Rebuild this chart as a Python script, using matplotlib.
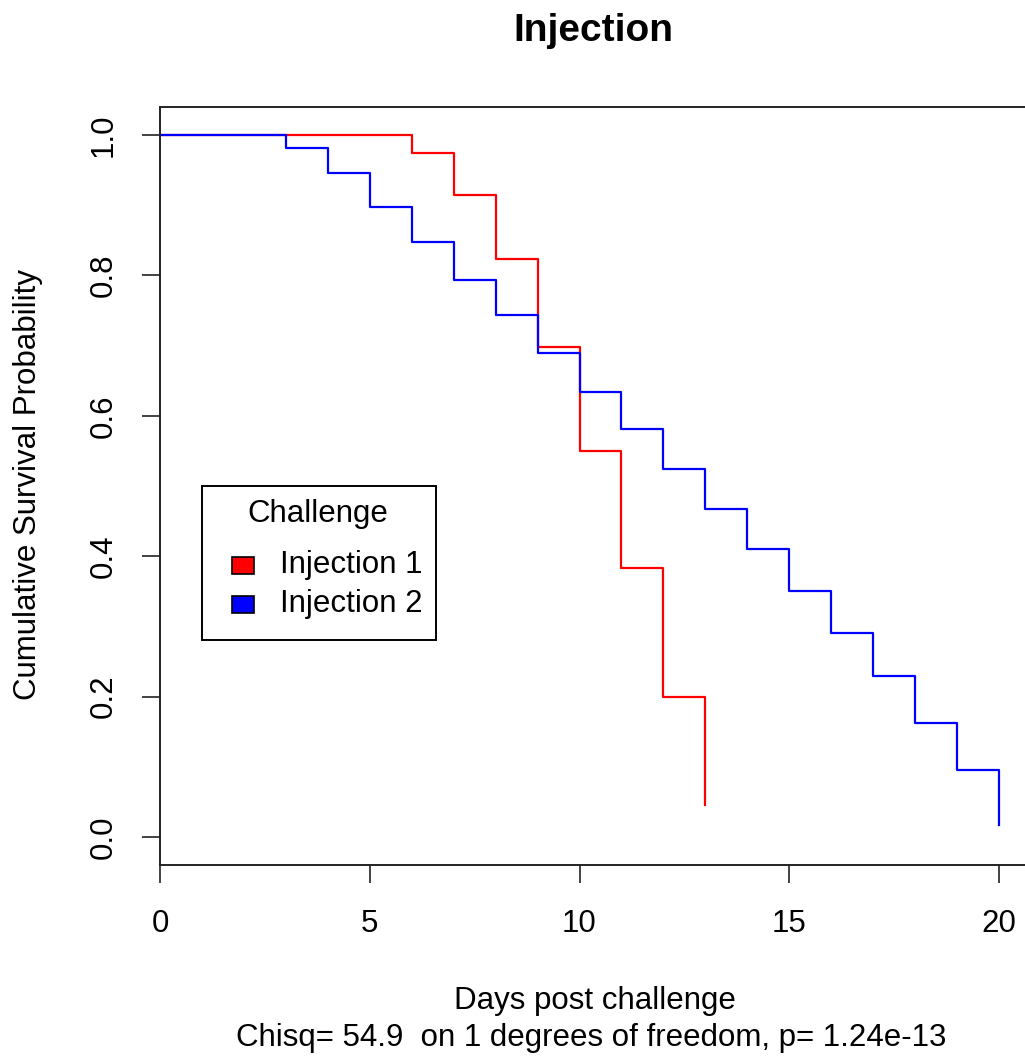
import matplotlib
matplotlib.use("Agg")
import matplotlib.pyplot as plt
from matplotlib.patches import Rectangle

plt.rcParams['font.family'] = ['Liberation Sans', 'DejaVu Sans']

#survival data
days_inj1 = [0, 6, 7, 8, 9, 10, 11, 12, 13]
surv_inj1 = [1.0, 0.975, 0.914, 0.823, 0.698, 0.550, 0.383, 0.200, 0.045]

days_inj2 = [0, 3, 4, 5, 6, 7, 8, 9, 10, 11, 12, 13, 14, 15, 16, 17, 18, 19, 20]
surv_inj2 = [1.0, 0.982, 0.946, 0.897, 0.848, 0.794, 0.743, 0.689, 0.634, 0.581,
             0.524, 0.467, 0.410, 0.351, 0.291, 0.229, 0.163, 0.095, 0.017]

group_names = ["Injection 1", "Injection 2"]
group_colors = ["#FF0000", "#0000FF"]
x_ticks = [0, 5, 10, 15, 20]
y_ticks = [0.0, 0.2, 0.4, 0.6, 0.8, 1.0]

W, H = 1025, 1056
fs = 22.5
fig = plt.figure(figsize=(W / 100, H / 100), dpi=100)

#pixel coords (from top left) -> figure fraction
def fx(px):
    return px / W
def fy(py):
    return 1 - py / H

#axes box in pixels: left 160, top 106, bottom 865, right spine off the picture
left, right, top, bottom = 160, 160 + 20.8 * 41.95, 107, 865
ax = fig.add_axes([fx(left), fy(bottom), (right - left) / W, (bottom - top) / H])

ax.step(days_inj1, surv_inj1, where='post', color=group_colors[0], lw=1.6)
ax.step(days_inj2, surv_inj2, where='post', color=group_colors[1], lw=1.6)

ax.set_xlim(0, 20.8)
ax.set_ylim(-0.04, 1.04)
ax.set_xticks(x_ticks)
ax.set_xticklabels([str(t) for t in x_ticks])
ax.set_yticks(y_ticks)
ax.set_yticklabels(["%.1f" % t for t in y_ticks], rotation=90, va='center')
ax.tick_params(axis='both', length=13, width=1.2, labelsize=fs, color='#222222')
ax.tick_params(axis='x', pad=19)
ax.tick_params(axis='y', pad=17)
for s in ['left', 'bottom', 'top']:
    ax.spines[s].set_linewidth(1.4)
    ax.spines[s].set_color('#222222')
ax.spines['right'].set_visible(False)

fig.text(fx(593), fy(31), "Injection", fontsize=28, fontweight='bold',
         ha='center', va='center')
fig.text(fx(595), fy(1001), "Days post challenge", fontsize=fs,
         ha='center', va='center')
fig.text(fx(591), fy(1038), "Chisq= 54.9  on 1 degrees of freedom, p= 1.24e-13",
         fontsize=fs, ha='center', va='center')
fig.text(fx(28), fy(485), "Cumulative Survival Probability", fontsize=fs,
         rotation=90, ha='center', va='center')

#legend drawn by hand, R style
fig.patches.append(Rectangle((fx(202), fy(640)), (436 - 202) / W, (640 - 486) / H,
                             transform=fig.transFigure, facecolor='white',
                             edgecolor='black', lw=1.4))
fig.text(fx(318), fy(514), "Challenge", fontsize=fs, ha='center', va='center')
for i, (name, col) in enumerate(zip(group_names, group_colors)):
    yc = 565 + 39 * i
    fig.patches.append(Rectangle((fx(232), fy(yc + 8.5)), 22 / W, 17 / H,
                                 transform=fig.transFigure, facecolor=col,
                                 edgecolor='black', lw=1.2))
    fig.text(fx(280), fy(yc), name, fontsize=fs, ha='left', va='center')

fig.savefig("out.png", dpi=100)
